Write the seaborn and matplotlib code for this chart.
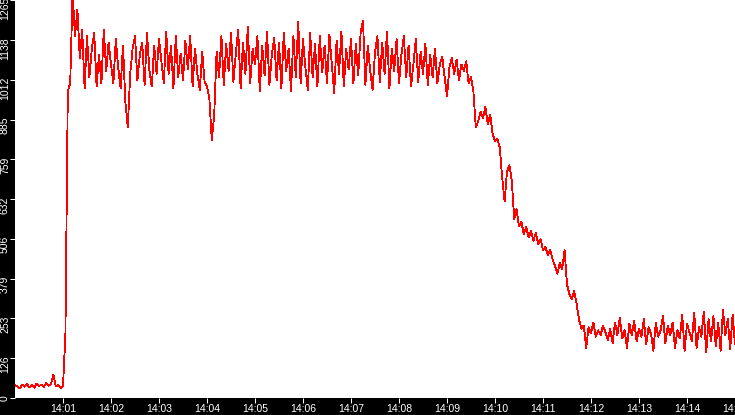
import matplotlib
matplotlib.use("Agg")
import matplotlib.pyplot as plt
import matplotlib.dates as mdates
import matplotlib.transforms as mtransforms
import pandas as pd
import seaborn as sns

# one reading every 3 seconds from 14:00:00 to 14:15:00
start = "2024-01-01 14:00:00"
step_s = 3

ramp_up = [40, 37, 31, 43, 36, 45, 34, 41, 33, 46, 38, 42, 35, 48, 39, 44, 74, 37, 41, 32,
           38, 200, 975, 1000, 1290, 1150, 1235, 1080, 1170, 985]
plateau = [1150, 1020, 1110, 1160, 990, 1090, 1000, 1170, 1040, 1130,
           1060, 1000, 1140, 1050, 985, 1120, 940, 860, 1030, 1110,
           1150, 1010, 1090, 1130, 995, 1160, 1040, 990, 1120, 1030,
           1140, 1070, 1000, 1165, 1030, 1120, 985, 1150, 1020, 1095,
           1010, 1135, 1045, 1150, 990, 1110, 1030, 980, 1100, 1005,
           990, 950, 820, 900, 1100, 1020, 1150, 995, 1125, 1040,
           1160, 1005, 1095, 1170, 985, 1130, 1030, 1180, 1000, 1110,
           1060, 1150, 975, 1120, 1025, 1165, 995, 1090, 1145, 1010,
           1130, 985, 1160, 1040, 1110, 975, 1150, 1020, 1195, 1000,
           1140, 1050, 980, 1160, 1020, 1125, 990, 1150, 1035, 1120,
           1000, 1155, 1060, 970, 1135, 1030, 1165, 990, 1110, 1045,
           1140, 1000, 1125, 1025, 1160, 1200, 995, 1120, 1040, 980,
           1100, 1150, 1005, 1130, 1030, 1165, 985, 1110, 1040, 1140,
           1000, 1090, 1150, 1020, 1120, 990, 1060, 1140, 1005, 1100,
           1030, 1125, 995, 1090, 1020, 1110, 1000]
decline = [1060, 1085, 1020, 960, 1050, 1080, 1030, 1075, 1010, 1060,
           1040, 1070, 1000, 1020, 975, 860, 880, 910, 890, 925,
           870, 900, 840, 815, 825, 795, 700, 625, 720, 740,
           690, 570, 600, 545, 560, 520, 545, 510, 530, 500,
           525, 490, 505, 470, 480, 455, 470, 440, 420, 395,
           430, 410, 470, 360, 330, 315, 340, 300, 250, 220,
           230]
tail = [160, 225, 205, 240, 195, 215, 200, 230, 210, 185,
        220, 175, 240, 200, 255, 190, 215, 160, 235, 200,
        245, 180, 220, 195, 250, 170, 225, 205, 150, 240,
        195, 215, 260, 175, 230, 200, 240, 160, 215, 190,
        265, 150, 235, 210, 180, 270, 160, 225, 195, 275,
        145, 250, 180, 260, 165, 240, 150, 280, 200, 250,
        155, 265, 170]

values = ramp_up + plateau + decline + tail
times = pd.date_range(start, periods=len(values), freq=f"{step_s}s")
df = pd.DataFrame({"time": times, "value": values})

y_ticks = [0, 126, 253, 379, 506, 632, 759, 885, 1012, 1138, 1265]
x_ticks = pd.date_range("2024-01-01 14:01:00", "2024-01-01 14:15:00", freq="1min")

plt.rcParams["font.family"] = ["Liberation Sans", "DejaVu Sans"]

fig = plt.figure(figsize=(7.35, 4.15), dpi=100, facecolor="black")
ax = fig.add_axes([15 / 735, 17 / 415, 720 / 735, 398 / 415])
ax.set_facecolor("white")

sns.lineplot(data=df, x="time", y="value", color="#ff0000", ax=ax)
for line in ax.get_lines():
    line.set_linewidth(0.6)
    line.set_antialiased(False)

ax.set_xlim(pd.Timestamp("2024-01-01 14:00:00"), pd.Timestamp("2024-01-01 14:15:00"))
ax.set_ylim(0, 1265)
ax.set_xticks(x_ticks)
ax.xaxis.set_major_formatter(mdates.DateFormatter("%H:%M"))
ax.set_yticks(y_ticks)
ax.set_yticklabels([str(v) for v in y_ticks], rotation=90, va="top")
ax.set_xlabel("")
ax.set_ylabel("")

ax.tick_params(colors="white", labelsize=7.5, length=3.6, width=0.75, direction="out")
ax.tick_params(axis="y", pad=0)
ax.tick_params(axis="x", pad=0.7)
for s in ax.spines.values():
    s.set_visible(False)

# rotated y labels sit mostly below their tick, as in the source chart
shift = mtransforms.ScaledTranslation(0, 3 / 100, fig.dpi_scale_trans)
for lab in ax.get_yticklabels():
    lab.set_transform(lab.get_transform() + shift)

fig.savefig("out.png", dpi=100, facecolor="black")
